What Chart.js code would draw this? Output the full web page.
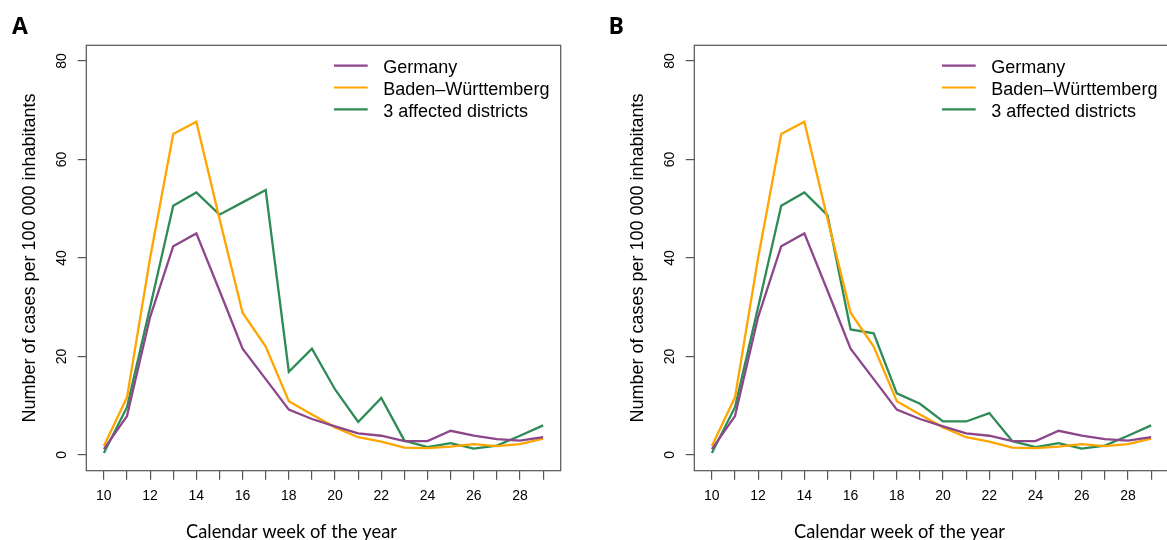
<!DOCTYPE html>
<html><head><meta charset="utf-8">
<script src="https://cdn.jsdelivr.net/npm/chart.js@4.4.0/dist/chart.umd.min.js"></script>
<style>
html,body{margin:0;padding:0;background:#fff;overflow:hidden;width:1167px;height:540px;}
.panel{position:absolute;top:0;width:583px;height:540px;}
</style></head><body>
<div class="panel" style="left:0px"><canvas id="cA"></canvas></div>
<div class="panel" style="left:607.7px"><canvas id="cB"></canvas></div>
<script>
// ---- data ----
const weeks = [10,11,12,13,14,15,16,17,18,19,20,21,22,23,24,25,26,27,28,29];
const germany = [1.2,7.9,28.0,42.4,45.0,33.4,21.6,15.4,9.2,7.3,5.8,4.4,3.9,2.8,2.8,4.9,3.9,3.2,2.9,3.6];
const badenWuerttemberg = [1.8,11.7,40.0,65.2,67.7,48.0,28.9,22.0,10.9,8.2,5.6,3.6,2.7,1.5,1.4,1.7,2.2,1.8,2.2,3.3];
const districtsA = [0.4,9.7,30.0,50.6,53.3,48.8,51.3,53.8,16.9,21.6,13.3,6.7,11.6,2.9,1.6,2.4,1.3,1.9,3.9,6.0];
const districtsB = [0.4,9.7,30.0,50.6,53.3,48.7,25.5,24.7,12.5,10.4,6.8,6.8,8.5,2.8,1.6,2.4,1.3,1.9,3.9,6.0];
const seriesNames = ['Germany','Baden\u2013W\u00fcrttemberg','3 affected districts'];
const xTickLabels = [10,12,14,16,18,20,22,24,26,28];
const yTickLabels = [0,20,40,60,80];
const xTitle = 'Calendar week of the year';
const yTitle = 'Number of cases per 100\u00a0000 inhabitants';

const colors = ['#8B4789','#FFA500','#2E8B57'];
const AXIS_COL = '#555555';

function pts(vals){ return weeks.map((w,i)=>({x:w,y:vals[i]})); }

const decor = {
  id:'decor',
  afterDraw(chart, args, opts){
    const ctx = chart.ctx, ca = chart.chartArea;
    const ys = chart.scales.y;
    ctx.save();
    // box
    ctx.strokeStyle = AXIS_COL; ctx.lineWidth = 1.2;
    ctx.strokeRect(ca.left, ca.top, ca.right-ca.left, ca.bottom-ca.top);
    // y tick labels (rotated, R style)
    ctx.fillStyle = '#000';
    ctx.font = '14px "Liberation Sans", Arial, sans-serif';
    ctx.textAlign = 'center'; ctx.textBaseline = 'alphabetic';
    yTickLabels.forEach(v=>{
      const py = ys.getPixelForValue(v);
      ctx.save(); ctx.translate(ca.left-20, py); ctx.rotate(-Math.PI/2);
      ctx.fillText(String(v),0,0); ctx.restore();
    });
    // y title
    ctx.font = '18px "Liberation Sans", Arial, sans-serif';
    ctx.save(); ctx.translate(ca.left-51, (ca.top+ca.bottom)/2); ctx.rotate(-Math.PI/2);
    ctx.fillText(yTitle,0,0); ctx.restore();
    // x title (humanist face, slightly condensed)
    ctx.font = '20px Lato, "Open Sans", sans-serif';
    ctx.textAlign = 'left';
    const w = ctx.measureText(xTitle).width;
    ctx.save(); ctx.translate(ca.left+99.7, 537.5); ctx.scale(211/w, 1);
    ctx.fillText(xTitle, 0, 0); ctx.restore();
    // legend
    ctx.font = '18px "Liberation Sans", Arial, sans-serif';
    chart.data.datasets.forEach((ds,i)=>{
      const ly = 65.7 + i*21.8;
      ctx.strokeStyle = ds.borderColor; ctx.lineWidth = 2.2;
      ctx.beginPath(); ctx.moveTo(ca.left+247.7, ly); ctx.lineTo(ca.left+281.4, ly); ctx.stroke();
      ctx.fillStyle = '#000'; ctx.textAlign='left';
      ctx.fillText(ds.label, ca.left+297, ly+7.6);
    });
    // panel letter
    ctx.font = 'bold 23px "Open Sans", sans-serif';
    ctx.fillText(opts.letter, opts.letterX, 33.5);
    ctx.restore();
  }
};

function makeChart(id, districts, letter, letterX){
  return new Chart(document.getElementById(id), {
    type:'line',
    data:{ datasets:[
      {label:seriesNames[0], data:pts(germany), borderColor:colors[0]},
      {label:seriesNames[1], data:pts(badenWuerttemberg), borderColor:colors[1]},
      {label:seriesNames[2], data:pts(districts), borderColor:colors[2]},
    ].map(d=>Object.assign(d,{borderWidth:2.3,pointRadius:0,tension:0,fill:false}))},
    options:{
      responsive:true, maintainAspectRatio:false, animation:false,
      layout:{padding:{left:0,right:22.3,top:45.3,bottom:0}},
      plugins:{legend:{display:false}, tooltip:{enabled:false}, decor:{letter, letterX}},
      scales:{
        x:{type:'linear', min:9.24, max:29.76,
          afterBuildTicks:s=>{ s.ticks = weeks.map(v=>({value:v})); },
          afterFit:s=>{ s.height = 69.3; },
          grid:{drawOnChartArea:false, drawTicks:true, tickLength:9, color:AXIS_COL, lineWidth:1.2},
          border:{display:false},
          ticks:{autoSkip:false, maxRotation:0, minRotation:0, padding:8, color:'#000',
            font:{family:'"Liberation Sans", Arial, sans-serif', size:14},
            callback:v=> xTickLabels.includes(v) ? String(v) : ''}
        },
        y:{type:'linear', min:-3.2, max:83.2,
          afterBuildTicks:s=>{ s.ticks = yTickLabels.map(v=>({value:v})); },
          afterFit:s=>{ s.width = 86.3; },
          grid:{drawOnChartArea:false, drawTicks:true, tickLength:8.6, color:AXIS_COL, lineWidth:1.2},
          border:{display:false},
          ticks:{display:true, color:'rgba(0,0,0,0)', font:{size:14}}
        }
      }
    },
    plugins:[decor]
  });
}
makeChart('cA', districtsA, 'A', 12);
makeChart('cB', districtsB, 'B', 0.5);
</script></body></html>
